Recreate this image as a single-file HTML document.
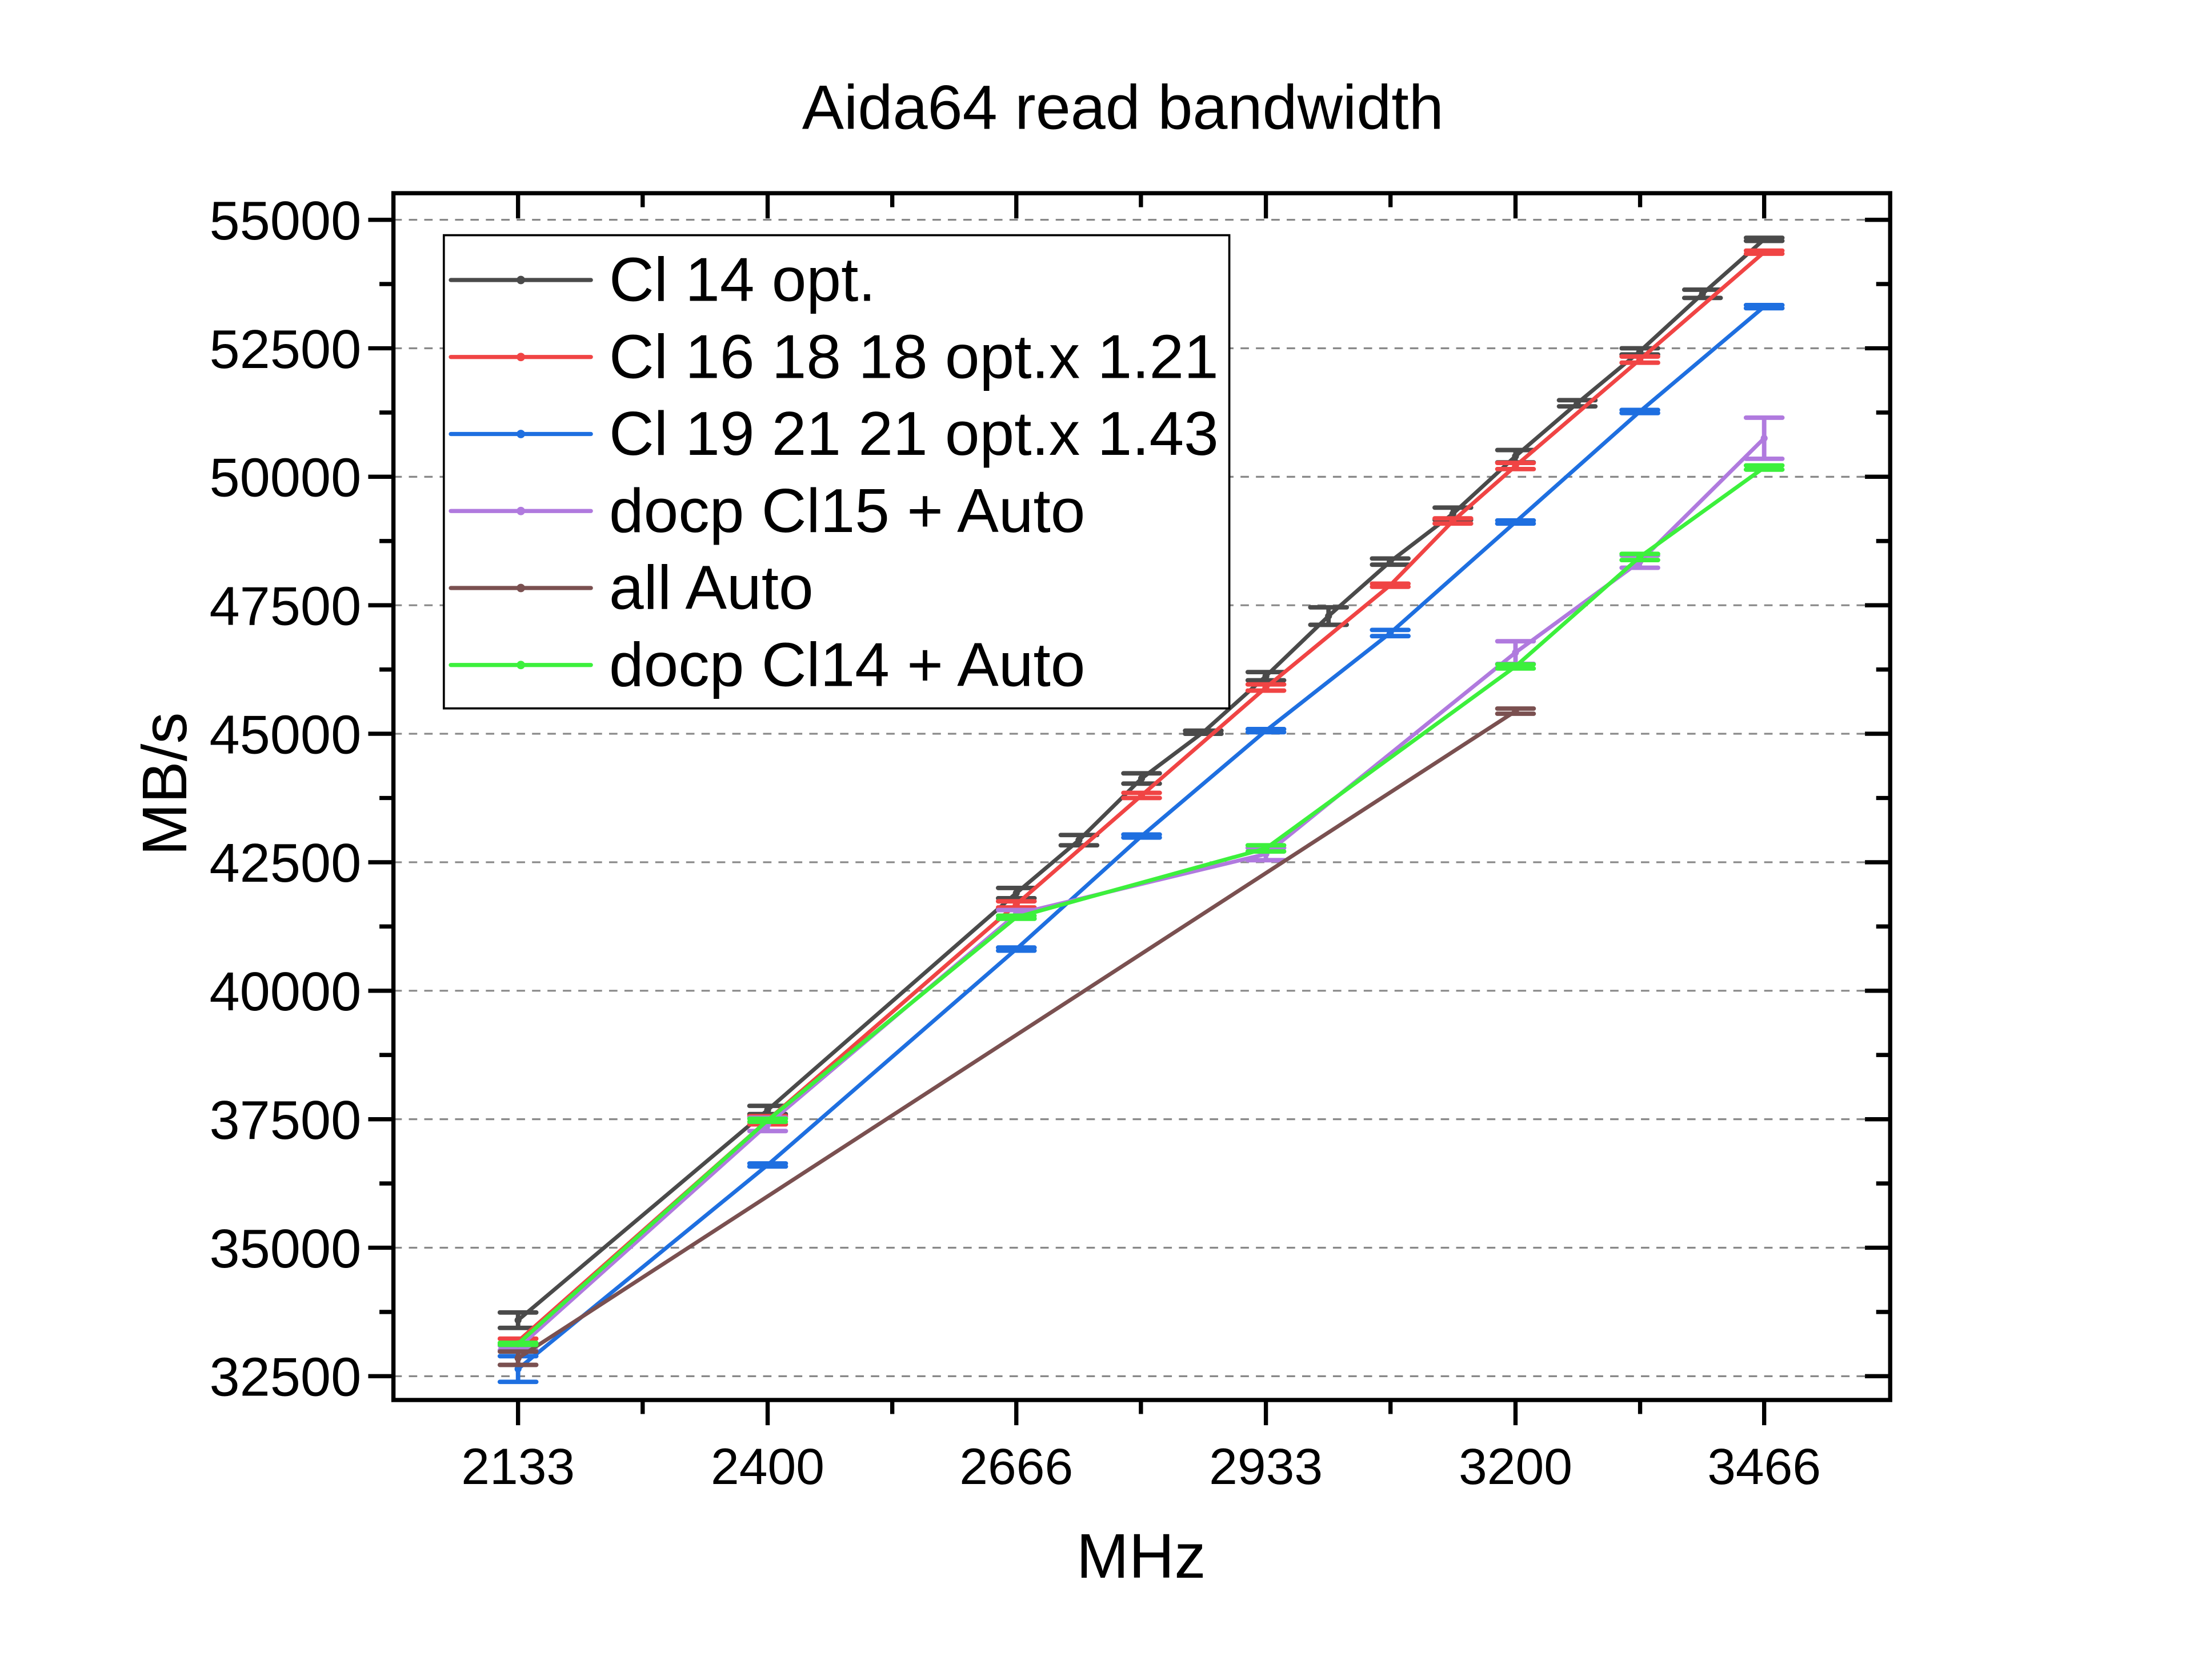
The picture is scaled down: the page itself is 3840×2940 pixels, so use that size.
<!DOCTYPE html>
<html><head><meta charset="utf-8"><style>
html,body{margin:0;padding:0;background:#fff}
svg{display:block}
text{font-family:"Liberation Sans",Arial,sans-serif;fill:#000}
</style></head><body>
<svg id="chart" width="3840" height="2940" viewBox="0 0 1567 1200" preserveAspectRatio="none" xmlns="http://www.w3.org/2000/svg">
<rect width="1567" height="1200" fill="#fff"/>
<text x="802" y="92" font-size="44.8" text-anchor="middle">Aida64 read bandwidth</text>
<g id="grid"></g>
<g id="axes"></g>
<g id="series"></g>
<rect x="281" y="138" width="1069" height="862" fill="none" stroke="#000" stroke-width="3"/>
<g id="legend"></g>
<text x="815" y="1127" font-size="45" text-anchor="middle">MHz</text>
<text transform="translate(133,560) rotate(-90)" font-size="45" text-anchor="middle">MB/s</text>
</svg>
<script>
const xCategories = [2133, 2400, 2666, 2933, 3200, 3466];
const yTicks = [32500, 35000, 37500, 40000, 42500, 45000, 47500, 50000, 52500, 55000];
const seriesNames = ["Cl 14 opt.", "Cl 16 18 18 opt.x 1.21", "Cl 19 21 21 opt.x 1.43", "docp Cl15 + Auto", "all Auto", "docp Cl14 + Auto"];
const cl14X = [2133, 2400, 2666, 2733, 2800, 2866, 2933, 3000, 3066, 3133, 3200, 3266, 3333, 3400, 3466];
const cl14Y = [33590, 37680, 41900, 42930, 44130, 45030, 46120, 47290, 48350, 49280, 50400, 51430, 52440, 53560, 54620];
const cl14Err = [150, 80, 100, 100, 100, 30, 80, 170, 60, 120, 120, 60, 60, 80, 30];
const cl16X = [2133, 2400, 2666, 2800, 2933, 3066, 3133, 3200, 3333, 3466];
const cl16Y = [33180, 37480, 41680, 43800, 45900, 47890, 49140, 50210, 52280, 54370];
const cl16Err = [50, 80, 60, 50, 60, 30, 50, 60, 60, 30];
const cl19X = [2133, 2400, 2666, 2800, 2933, 3066, 3200, 3333, 3466];
const cl19Y = [32640, 36610, 40810, 43010, 45060, 46960, 49120, 51270, 53310];
const cl19Err = [250, 30, 30, 30, 30, 60, 30, 30, 30];
const docp15X = [2133, 2400, 2666, 2933, 3200, 3333, 3466];
const docp15Y = [33050, 37400, 41490, 42660, 46580, 48350, 50750];
const docp15Err = [40, 130, 80, 120, 220, 120, 400];
const autoX = [2133, 3200];
const autoY = [32850, 45440];
const autoErr = [130, 50];
const docp14X = [2133, 2400, 2666, 2933, 3200, 3333, 3466];
const docp14Y = [33130, 37480, 41430, 42770, 46310, 48440, 50180];
const docp14Err = [20, 30, 30, 60, 40, 60, 40];
const colors = ["#4a4a4a", "#f04444", "#1e6fe0", "#b07ade", "#7a5050", "#3cf03c"];
const NS = "http://www.w3.org/2000/svg";
const xs = v => 370 + (v - 2133) * (1260 - 370) / (3466 - 2133);
const ys = v => 983 - (v - 32500) * (983 - 157) / (55000 - 32500);
function mk(tag, attrs, parent){const e=document.createElementNS(NS,tag);for(const k in attrs)e.setAttribute(k,attrs[k]);parent.appendChild(e);return e;}
const grid=document.getElementById('grid'), axes=document.getElementById('axes'), ser=document.getElementById('series'), leg=document.getElementById('legend');
yTicks.forEach(v=>{
  const g=mk('line',{x1:281,x2:1350,y1:ys(v),y2:ys(v),stroke:'#888','stroke-width':1.3,'stroke-dasharray':'6 5'},grid);
  
  
  const t=mk('line',{x1:263,x2:281,y1:ys(v),y2:ys(v),stroke:'#000','stroke-width':3},axes);
  
  
  mk('line',{x1:1332,x2:1350,y1:ys(v),y2:ys(v),stroke:'#000','stroke-width':3},axes);
  if(v<55000){
    mk('line',{x1:271,x2:281,y1:ys(v+1250),y2:ys(v+1250),stroke:'#000','stroke-width':3},axes);
    mk('line',{x1:1340,x2:1350,y1:ys(v+1250),y2:ys(v+1250),stroke:'#000','stroke-width':3},axes);
  }
  const l=mk('text',{x:258,y:ys(v)+14,'font-size':39,'text-anchor':'end'},axes);
  l.textContent=v;
  
  
});
xCategories.forEach((v,i)=>{
  const x=xs(v);
  const t=mk('line',{x1:x,x2:x,y1:1000,y2:1018,stroke:'#000','stroke-width':3},axes);
  
  
  mk('line',{x1:x,x2:x,y1:138,y2:156,stroke:'#000','stroke-width':3},axes);
  if(i<xCategories.length-1){
    const mx=xs(v)+(xs(3466)-xs(2133))/10;
    mk('line',{x1:mx,x2:mx,y1:1000,y2:1010,stroke:'#000','stroke-width':3},axes);
    mk('line',{x1:mx,x2:mx,y1:138,y2:148,stroke:'#000','stroke-width':3},axes);
  }
  const l=mk('text',{x:x,y:1060,'font-size':36.5,'text-anchor':'middle'},axes);
  l.textContent=v;
  
  
});
const allX=[cl14X,cl16X,cl19X,docp15X,autoX,docp14X];
const allY=[cl14Y,cl16Y,cl19Y,docp15Y,autoY,docp14Y];
const allE=[cl14Err,cl16Err,cl19Err,docp15Err,autoErr,docp14Err];
allX.forEach((X,s)=>{
  const g=mk('g',{},ser);
  
  
  const pts=X.map((x,i)=>xs(x)+','+ys(allY[s][i])).join(' ');
  const pl=mk('polyline',{points:pts,fill:'none',stroke:colors[s],'stroke-width':2.8,'stroke-linejoin':'round'},g);
  
  
  X.forEach((x,i)=>{
    const cx=xs(x), y=allY[s][i], e=allE[s][i];
    const eb=mk('path',{d:`M${cx},${ys(y+e)}V${ys(y-e)}M${cx-13},${ys(y+e)}H${cx+13}M${cx-13},${ys(y-e)}H${cx+13}`,stroke:colors[s],'stroke-width':3.2,'stroke-linecap':'round',fill:'none'},g);
    
    
    const m=mk('circle',{cx:cx,cy:ys(y),r:2.5,fill:colors[s]},g);
    
    
  });
});
mk('rect',{x:317,y:168,width:561,height:338,fill:'#fff',stroke:'#000','stroke-width':1.5},leg);
seriesNames.forEach((n,i)=>{
  const y=200+i*55;
  const e=mk('g',{},leg);
  
  
  mk('line',{x1:322,x2:422,y1:y,y2:y,stroke:colors[i],'stroke-width':3,'stroke-linecap':'round'},e);
  mk('circle',{cx:372,cy:y,r:3,fill:colors[i]},e);
  const t=mk('text',{x:435,y:y+15,'font-size':44.5},e);
  t.textContent=n;
});
</script>
</body></html>
